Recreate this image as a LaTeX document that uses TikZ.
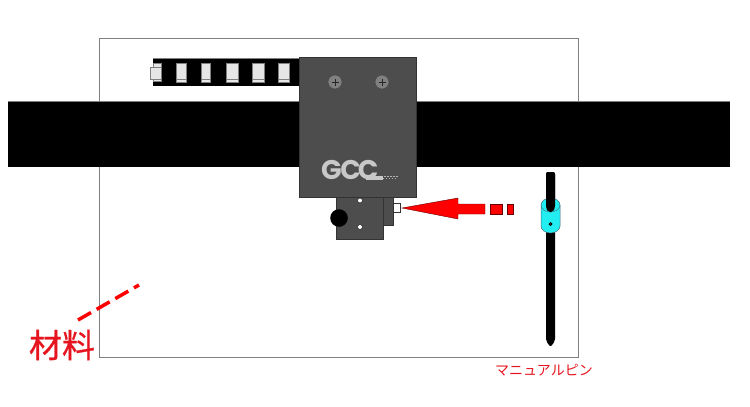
\documentclass[tikz,border=0pt]{standalone}
\usepackage{fontspec}
\usepackage{tikz}
\usetikzlibrary{positioning,calc}
\newfontfamily\cjk{Noto Sans CJK JP}
\newfontfamily\cjkheavy[FakeBold=0.7]{Noto Sans CJK JP}
\newfontfamily\logofont{Poppins}
\definecolor{headgray}{HTML}{4D4D4D}
\definecolor{framegray}{HTML}{808080}
\definecolor{holegray}{HTML}{E6E6E6}
\definecolor{logogray}{HTML}{C8C8C8}
\definecolor{markred}{HTML}{FF0000}
\definecolor{labelred}{HTML}{E6141E}
\definecolor{collarcyan}{HTML}{22EEF2}
\tikzset{
    linkhole/.style={fill=holegray, draw=framegray, line width=0.5pt},
    headpart/.style={fill=headgray, draw=black!80, line width=0.7pt},
    redmark/.style={fill=markred, draw=black!60!red, line width=0.4pt},
}

\begin{document}
\begin{tikzpicture}[x=1pt, y=-1pt]
\useasboundingbox (0,0) rectangle (750,407);

% Material frame
\draw[framegray, line width=0.8pt] (99,38) rectangle (578,357);

% Cable chain
\fill[black] (153,58) rectangle (299,86);
\draw[framegray, line width=0.5pt] (153,58) -- (299,58);
\fill[white] (149,64) rectangle (153,81);
\foreach \xa/\xb in {176/186, 201/210, 226/238, 252/264, 278/289} {
    \draw[linkhole] (\xa,63) rectangle (\xb,82);
    \draw[framegray, line width=0.5pt] (\xa,79) -- (\xb,79);
}
\draw[linkhole] (153,63.5) rectangle (161,81);
\draw[linkhole] (150,67) rectangle (161,79);

% Rail
\fill[black] (8,102) rectangle (730,167);
\draw[framegray, line width=0.5pt] (8,101.5) -- (730,101.5);

% Tool head
\draw[headpart] (299,57) rectangle (416,197);
\foreach \x in {335, 382} {
    \draw[fill=gray, draw=black!70, line width=0.6pt] (\x,82) circle (7);
    \draw[black!85, line width=1pt] (\x-3.5,82) -- (\x+3.5,82);
    \draw[black!85, line width=1pt] (\x,78.5) -- (\x,85.5);
}

% Logo
\node[font=\logofont\bfseries\fontsize{27}{27}\selectfont, logogray, inner sep=0pt, anchor=base west] (logo) at (321,179) {G\kern-1.5pt C\kern-3pt C};
\fill[logogray] (366,175.5) rectangle (383,179.5);
\foreach \x in {384,387,...,396} {
    \fill[logogray!90!black] (\x,175.5) rectangle +(1.5,1.5);
    \fill[logogray!90!black] (\x-1.5,177.5) rectangle +(1.5,1.5);
}

% Lower block
\draw[headpart] (383,197) rectangle (393,225);
\draw[fill=white, draw=black!80, line width=0.7pt] (393,203.5) rectangle (400.5,212);
\draw[headpart] (336,197) rectangle (383,239);
\fill[black] (339,218) circle (8.8);
\foreach \y in {200.5, 227} {
    \draw[fill=white, draw=black, line width=0.3pt] (360,\y) circle (2.4);
}

% Arrow
\draw[redmark] (402,208) -- (458,198) -- (458,204) -- (485,204) -- (485,214) -- (458,214) -- (458,219) -- cycle;
\foreach \xa/\xb in {490/502, 507/513} {
    \draw[redmark] (\xa,204) rectangle (\xb,214);
}

% Manual pin
\fill[black, rounded corners=2pt] (546,172) -- (555,172) -- (555,341) -- (550.5,347) -- (546,341) -- cycle;
\draw[fill=collarcyan, draw=black!60!cyan, line width=0.5pt] (541,205) arc[start angle=180, end angle=360, x radius=9.5, y radius=7] -- (560,226) arc[start angle=0, end angle=180, x radius=9.5, y radius=7] -- cycle;
\draw[black!60!cyan, line width=0.4pt] (541,205) arc[start angle=180, end angle=0, x radius=9.5, y radius=7];
\fill[black, rounded corners=2pt] (546,172) -- (555,172) -- (555,208) -- (553,212) -- (548,212) -- (546,208) -- cycle;
\draw[fill=white, draw=black, line width=1pt] (550.5,224) circle (1.3);
\node[font=\cjk\fontsize{14}{14}\selectfont, labelred, inner sep=0pt] (pinlabel) at (544,370) {マニュアルピン};

% Material label
\node[font=\cjkheavy\fontsize{33}{33}\selectfont, labelred, inner sep=0pt] (material) at (62,345) {材料};
\coordinate (materialend) at (139,285);
\coordinate (materialstart) at (78,320);
\draw[markred, line width=3.5pt, dash pattern=on 15pt off 6.5pt] (materialstart) -- (materialend);

\end{tikzpicture}
\end{document}
